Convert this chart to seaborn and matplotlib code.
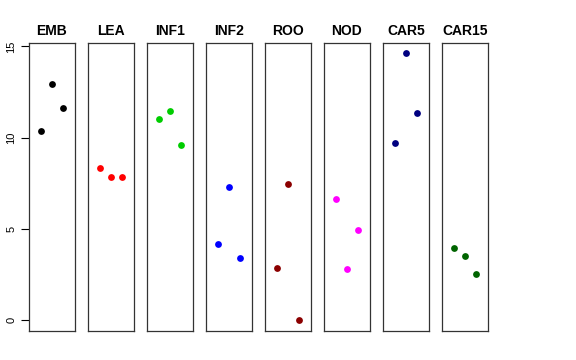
import seaborn as sns
import matplotlib.pyplot as plt
import pandas as pd

# Tissue groups and three replicate values for each
groups = ['EMB', 'LEA', 'INF1', 'INF2', 'ROO', 'NOD', 'CAR5', 'CAR15']
rep1 = [10.38, 8.32, 11.04, 4.15, 2.85, 6.62, 9.69, 3.95]
rep2 = [12.94, 7.82, 11.48, 7.31, 7.44, 2.80, 14.64, 3.53]
rep3 = [11.61, 7.84, 9.58, 3.38, 0.02, 4.93, 11.35, 2.51]
colors = ['black', 'red', '#00CD00', 'blue', '#8B0000', 'magenta', '#000080', '#006400']

sns.set_style("white")
plt.rcParams['font.family'] = ['Liberation Sans', 'DejaVu Sans']
plt.rcParams['text.color'] = 'black'
plt.rcParams['ytick.color'] = 'black'
plt.rcParams['ytick.labelcolor'] = 'black'

df = pd.DataFrame({
    'group': [g for g in groups for _ in range(3)],
    'rep': [1, 2, 3] * len(groups),
    'value': [v for trio in zip(rep1, rep2, rep3) for v in trio],
})

fig, axes = plt.subplots(1, len(groups), figsize=(5.76, 3.6), dpi=100, sharey=True)
fig.subplots_adjust(left=0.0503, right=0.847, bottom=0.081, top=0.881, wspace=0.283)

for ax, g, c in zip(axes, groups, colors):
    sub = df[df['group'] == g]
    sns.scatterplot(data=sub, x='rep', y='value', color=c, s=24, linewidth=0, ax=ax)
    ax.set_xlim(-0.16, 4.16)
    ax.set_ylim(-0.585, 15.2)
    ax.set_title(g, fontsize=10, fontweight='bold', pad=6, color='black')
    ax.set_xlabel('')
    ax.set_ylabel('')
    ax.set_xticks([])
    for sp in ax.spines.values():
        sp.set_color('#333333')
        sp.set_linewidth(0.9)
    ax.tick_params(left=False, labelleft=False)

# y axis only on the first panel
ax0 = axes[0]
ax0.set_yticks([0, 5, 10, 15])
ax0.tick_params(axis='y', left=True, labelleft=True, direction='out', length=6,
                width=0.8, labelsize=8, pad=3, colors='black')
for lab in ax0.get_yticklabels():
    lab.set_rotation(90)
    lab.set_va('center')

plt.savefig('out.png', dpi=100)
